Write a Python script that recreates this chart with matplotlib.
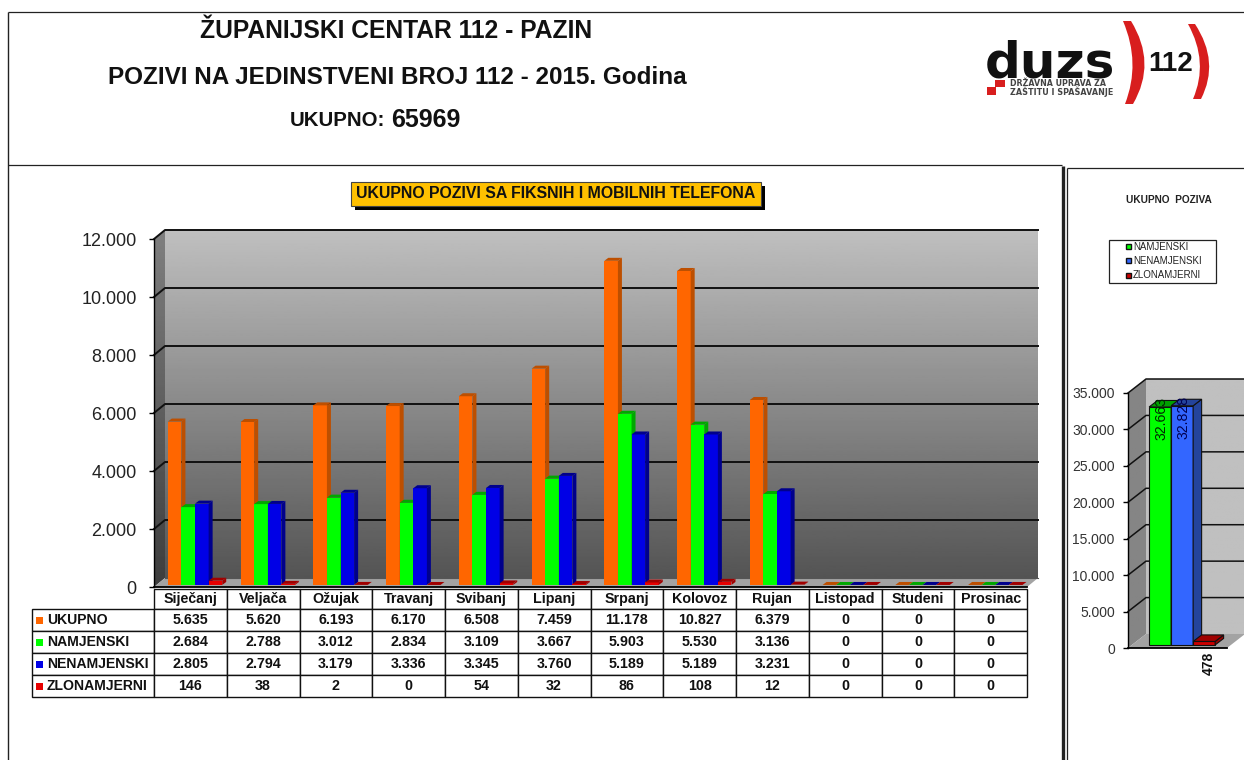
import numpy as np
import matplotlib
matplotlib.use('Agg')
import matplotlib.pyplot as plt
from matplotlib.patches import Polygon, Rectangle, PathPatch
from matplotlib.path import Path

plt.rcParams['font.family'] = ['Liberation Sans', 'DejaVu Sans']

W, H = 1244, 760

months = ['Siječanj', 'Veljača', 'Ožujak', 'Travanj', 'Svibanj', 'Lipanj',
          'Srpanj', 'Kolovoz', 'Rujan', 'Listopad', 'Studeni', 'Prosinac']
series_names = ['UKUPNO', 'NAMJENSKI', 'NENAMJENSKI', 'ZLONAMJERNI']
ukupno = [5635, 5620, 6193, 6170, 6508, 7459, 11178, 10827, 6379, 0, 0, 0]
namjenski = [2684, 2788, 3012, 2834, 3109, 3667, 5903, 5530, 3136, 0, 0, 0]
nenamjenski = [2805, 2794, 3179, 3336, 3345, 3760, 5189, 5189, 3231, 0, 0, 0]
zlonamjerni = [146, 38, 2, 0, 54, 32, 86, 108, 12, 0, 0, 0]
main_ticks = [0, 2000, 4000, 6000, 8000, 10000, 12000]

total_names = ['NAMJENSKI', 'NENAMJENSKI', 'ZLONAMJERNI']
total_values = [32663, 32828, 478]
total_ticks = [0, 5000, 10000, 15000, 20000, 25000, 30000, 35000]

front_cols = ['#ff6600', '#00ff00', '#0000e6', '#e60000']
side_cols = ['#bd4f00', '#00a800', '#00008c', '#a00000']


def dotted(v):
    return f'{v:,}'.replace(',', '.')


def px_axes(fig, l, t, r, b):
    return fig.add_axes([l / W, 1 - b / H, (r - l) / W, (b - t) / H])


def bar3d(ax, x, w, h, col, side, dx, dy, base, edge=None):
    # front through ax.bar, side and top faces pushed back by the depth
    ax.bar(x, h, w, bottom=base, align='edge', color=col, clip_on=False, zorder=3,
           edgecolor=edge or col, linewidth=0.8 if edge else 0)
    top = base + h
    ec = edge or side
    lw = 0.8 if edge else 0
    ax.add_patch(Polygon([(x + w, base), (x + w + dx, base + dy), (x + w + dx, top + dy), (x + w, top)],
                         fc=side, ec=ec, lw=lw, clip_on=False, zorder=3))
    ax.add_patch(Polygon([(x, top), (x + dx, top + dy), (x + w + dx, top + dy), (x + w, top)],
                         fc=side, ec=ec, lw=lw, clip_on=False, zorder=3))


def walls(ax, xmax, ymax, dx, dy, back, side, floor='#a3a3a3'):
    g_back = np.linspace(back[0], back[1], 256).reshape(-1, 1)
    g_side = np.linspace(side[0], side[1], 256).reshape(-1, 1)
    ax.imshow(g_back, extent=(dx, xmax + dx, dy, ymax + dy), cmap='gray', vmin=0, vmax=1,
              aspect='auto', zorder=0, clip_on=False, origin='upper')
    im = ax.imshow(g_side, extent=(0, dx, 0, ymax + dy), cmap='gray', vmin=0, vmax=1,
                   aspect='auto', zorder=0, origin='upper')
    im.set_clip_box(ax.figure.bbox)
    im.set_clip_path(Polygon([(0, 0), (dx, dy), (dx, ymax + dy), (0, ymax)], transform=ax.transData))
    ax.add_patch(Polygon([(0, 0), (xmax, 0), (xmax + dx, dy), (dx, dy)], fc=floor, ec='none',
                         clip_on=False, zorder=1))
    ax.set_xlim(0, xmax)
    ax.set_ylim(0, ymax)


def style_axis(ax, ticks, size, col, pad):
    ax.patch.set_visible(False)
    for s in ['top', 'right']:
        ax.spines[s].set_visible(False)
    ax.spines['left'].set_linewidth(1.0)
    ax.spines['bottom'].set_linewidth(1.3)
    ax.set_xticks([])
    ax.set_yticks(ticks)
    ax.set_yticklabels([dotted(t) for t in ticks], fontsize=size, color=col)
    ax.tick_params(axis='y', length=3.5, width=1.0, pad=pad)


fig = plt.figure(figsize=(W / 100, H / 100), dpi=100, facecolor='white')

# ------- monthly chart
ax = px_axes(fig, 154, 239, 1027, 587)
dxm = 11 * 12 / 873
dym = 9 * 12000 / 348
walls(ax, 12, 12000, dxm, dym, (0.75, 0.33), (0.50, 0.24))
for t in main_ticks[1:]:
    ax.plot([0, dxm, 12 + dxm], [t, t + dym, t + dym], color='#111111', lw=1.4, zorder=2, clip_on=False)
ax.plot([dxm, 12 + dxm], [dym, dym], color='#555555', lw=0.8, zorder=2, clip_on=False)

bw = 13.6 * 12 / 873
ddx = 4 * 12 / 873
ddy = 3 * 12000 / 348
for j, vals in enumerate([ukupno, namjenski, nenamjenski, zlonamjerni]):
    for i, v in enumerate(vals):
        bar3d(ax, i + 0.19 + j * bw, bw, v, front_cols[j], side_cols[j], ddx, ddy, 70)
style_axis(ax, main_ticks, 13, '#222222', 9)

cell_text = [[dotted(v) for v in vals] for vals in [ukupno, namjenski, nenamjenski, zlonamjerni]]
tab = ax.table(cellText=cell_text, rowLabels=series_names, colLabels=months, cellLoc='center',
               rowLoc='left', colLoc='center', colWidths=[1 / 12] * 12,
               bbox=[0, (587 - 697) / 348, 1, 108 / 348])
tab.auto_set_font_size(False)
tab._autoColumns = []  # otherwise the label column is resized to its text
for (r, c), cell in tab.get_celld().items():
    cell.set_linewidth(1.0)
    cell.set_edgecolor('#111111')
    cell.set_height(20 / 348 if r == 0 else 22 / 348)
    cell.get_text().set_fontweight('bold')
    cell.get_text().set_fontsize(10.3)
    cell.get_text().set_color('#111111')
    if c == -1:
        cell.set_width(122 / 873)
        cell.PAD = 15 / 122
        cell.get_text().set_fontsize(10.1)

# ------- totals chart, runs off the right edge like the reference
ax2 = px_axes(fig, 1128, 393, 1227, 648)
dxt = 18 * 3 / 99
dyt = 14 * 35000 / 255
walls(ax2, 3, 35000, dxt, dyt, (0.75, 0.75), (0.52, 0.52))
for t in total_ticks[1:]:
    ax2.plot([0, dxt, 3 + dxt], [t, t + dyt, t + dyt], color='#111111', lw=1.1, zorder=2, clip_on=False)

tw = 22 * 3 / 99
tdx = 8.5 * 3 / 99
tdy = 6.5 * 35000 / 255
total_front = ['#00ff00', '#3366ff', '#cc0000']
total_side = ['#00a000', '#24449c', '#a00000']
for j, v in enumerate(total_values):
    bar3d(ax2, 0.64 + j * tw, tw, v, total_front[j], total_side[j], tdx, tdy, 420, edge='#111111')
ax2.text(0.64 + 0.5 * tw + 0.03, 420 + total_values[0] + 1300, dotted(total_values[0]), rotation=90,
         ha='center', va='top', fontsize=10.2, color='#002800', zorder=5, clip_on=False)
ax2.text(0.64 + 1.5 * tw + 0.03, 420 + total_values[1] + 1300, dotted(total_values[1]), rotation=90,
         ha='center', va='top', fontsize=10.2, color='#000050', zorder=5, clip_on=False)
ax2.text(0.64 + 2.5 * tw + 0.13, -500, dotted(total_values[2]), rotation=90, ha='center', va='top',
         fontsize=10, fontweight='bold', color='#111111', zorder=5, clip_on=False)
style_axis(ax2, total_ticks, 10, '#333333', 6)

# ------- overlay in pixel coordinates: frames, titles, logo, legends
ov = fig.add_axes([0, 0, 1, 1], zorder=10)
ov.set_xlim(0, W)
ov.set_ylim(H, 0)
ov.axis('off')

for xs, ys, lw in [([8, W], [12, 12], 0.9), ([8, 8], [12, H], 1.0), ([8, 1062], [165, 165], 0.9),
                   ([1063, 1063], [166, H], 2.4), ([1067, 1067], [168, H], 0.9),
                   ([1067, W], [168, 168], 0.9)]:
    ov.plot(xs, ys, color='#222222', lw=lw, solid_capstyle='butt')

ov.text(396, 31, 'ŽUPANIJSKI CENTAR 112 - PAZIN', ha='center', va='center', fontsize=17.7,
        fontweight='bold', color='#111111')
ov.text(397, 77, 'POZIVI NA JEDINSTVENI BROJ 112 - 2015. Godina', ha='center', va='center', fontsize=17.5,
        fontweight='bold', color='#111111')
ov.text(337, 120, 'UKUPNO:', ha='center', va='center', fontsize=14.7, fontweight='bold', color='#111111')
ov.text(426, 120, '65969', ha='center', va='center', fontsize=18, fontweight='bold', color='#111111')

# chart title box
ov.add_patch(Rectangle((355, 186), 410, 24, fc='black', ec='none'))
ov.add_patch(Rectangle((351, 182), 410, 24, fc='#ffc000', ec='#444444', lw=0.8))
ov.text(556, 194, 'UKUPNO POZIVI SA FIKSNIH I MOBILNIH TELEFONA', ha='center', va='center',
        fontsize=11.4, fontweight='bold', color='#111111')

# swatches for the table rows
for row_y, col in zip([620, 642, 664, 686], front_cols):
    ov.add_patch(Rectangle((36, row_y - 3.5), 7, 7, fc=col, ec='none'))

# legend of the totals chart
ov.text(1169, 200, 'UKUPNO  POZIVA', ha='center', va='center', fontsize=7.3, fontweight='bold', color='#222222')
ov.add_patch(Rectangle((1109, 240), 107, 43, fc='white', ec='#222222', lw=0.9))
for row_y, name, col in zip([246.5, 260.5, 275.5], total_names, total_front):
    ov.add_patch(Rectangle((1125.5, row_y - 2.5), 5, 5, fc=col, ec='#111111', lw=1.0))
    ov.text(1133, row_y, name, ha='left', va='center', fontsize=7, color='#222222')

# logo
ov.text(985, 77, 'duzs', ha='left', va='baseline', fontsize=36, fontweight='bold', color='#111111',
        family='DejaVu Sans')
ov.text(1148, 71, '112', ha='left', va='baseline', fontsize=20, fontweight='bold', color='#111111')
ov.text(1010, 86, 'DRŽAVNA UPRAVA ZA', ha='left', va='baseline', fontsize=5.7, fontweight='bold',
        color='#444444', family='DejaVu Sans')
ov.text(1010, 95, 'ZAŠTITU I SPAŠAVANJE', ha='left', va='baseline', fontsize=5.8, fontweight='bold',
        color='#444444', family='DejaVu Sans')
ov.add_patch(Rectangle((995, 80), 10, 6.5, fc='#d81e1e', ec='none'))
ov.add_patch(Rectangle((987, 87), 9, 8, fc='#d81e1e', ec='none'))
codes = [Path.MOVETO, Path.CURVE3, Path.CURVE3, Path.LINETO, Path.CURVE3, Path.CURVE3, Path.CLOSEPOLY]
for verts in [[(1131, 21), (1157, 63), (1133, 104), (1125, 104), (1141, 63), (1123, 21), (1131, 21)],
              [(1195, 24), (1220, 62), (1201, 99), (1193, 99), (1209, 62), (1188, 24), (1195, 24)]]:
    ov.add_patch(PathPatch(Path(verts, codes), fc='#d81e1e', ec='none'))

fig.savefig('out.png', dpi=100)
